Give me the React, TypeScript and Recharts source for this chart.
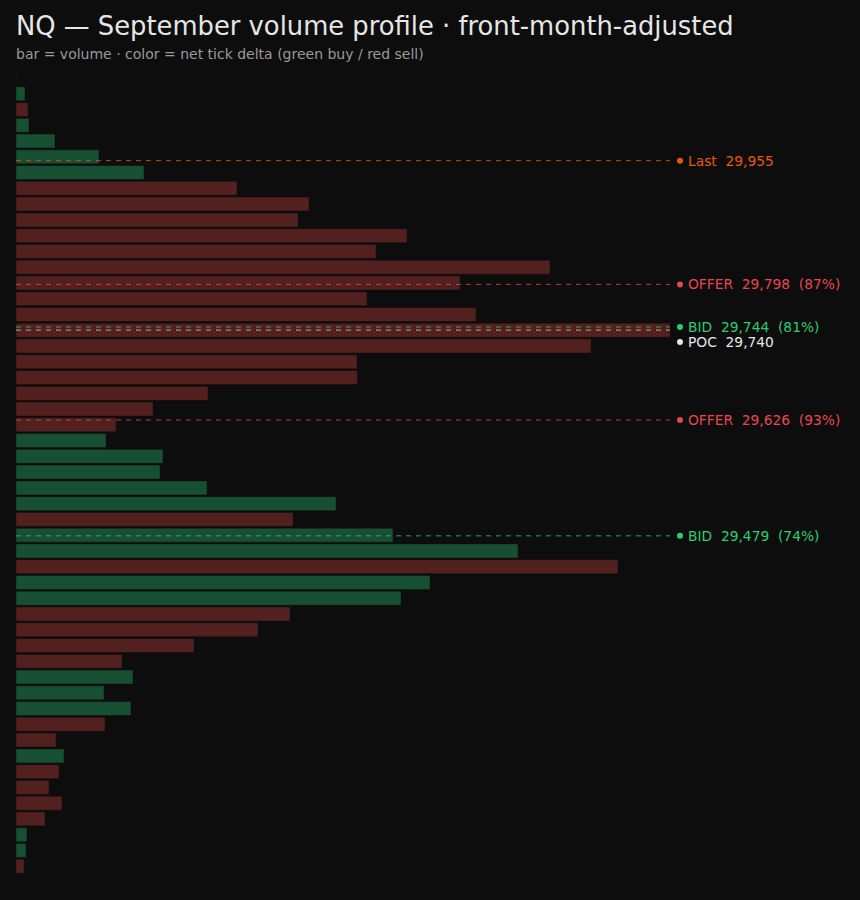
import { BarChart, Bar, XAxis, YAxis, Cell, ReferenceLine } from 'recharts';

// price bins (20-pt), top to bottom
const prices = [
  30060, 30040, 30020, 30000, 29980, 29960, 29940, 29920, 29900, 29880,
  29860, 29840, 29820, 29800, 29780, 29760, 29740, 29720, 29700, 29680,
  29660, 29640, 29620, 29600, 29580, 29560, 29540, 29520, 29500, 29480,
  29460, 29440, 29420, 29400, 29380, 29360, 29340, 29320, 29300, 29280,
  29260, 29240, 29220, 29200, 29180, 29160, 29140, 29120, 29100, 29080,
  29060,
];

const volumes = [
  4, 126, 168, 182, 546, 1162, 1792, 3094, 4102, 3948,
  5474, 5040, 7476, 6216, 4914, 6440, 9156, 8050, 4774, 4781,
  2688, 1918, 1400, 1260, 2058, 2016, 2674, 4480, 3878, 5278,
  7028, 8428, 5796, 5390, 3836, 3388, 2492, 1484, 1638, 1232,
  1610, 1246, 560, 672, 602, 462, 644, 406, 154, 140,
  112,
];

// sign of net tick delta: 1 = buy, -1 = sell
const deltaSign = [
  1, 1, -1, 1, 1, 1, 1, -1, -1, -1,
  -1, -1, -1, -1, -1, -1, -1, -1, -1, -1,
  -1, -1, -1, 1, 1, 1, 1, 1, -1, 1,
  1, -1, 1, 1, -1, -1, -1, -1, 1, 1,
  1, -1, -1, 1, -1, -1, -1, -1, 1, 1,
  -1,
];

const levelNames = ['Last', 'OFFER', 'BID', 'POC', 'OFFER', 'BID'];
const levelPrices = [29955, 29798, 29744, 29740, 29626, 29479];
const levelPct = [null, 87, 81, null, 93, 74];

const LEVEL_COLORS: Record<string, string> = {
  Last: '#e8590c',
  OFFER: '#e5484d',
  BID: '#2ecc71',
  POC: '#e6e6e6',
};
const LINE_COLORS: Record<string, string> = {
  Last: '#e8590c',
  OFFER: '#e5484d',
  BID: '#2ecc71',
  POC: '#c8c8c8',
};

const BUY = '#174f33';
const SELL = '#52201f';
const BG = '#0d0d0d';
const FONT = '"DejaVu Sans", sans-serif';

const W = 860;
const H = 900;
const MARGIN = { top: 70, right: 190, bottom: 26, left: 16 };
const DOMAIN: [number, number] = [29050, 30070];
const PLOT_H = H - MARGIN.top - MARGIN.bottom;
const PX_PER_PT = PLOT_H / (DOMAIN[1] - DOMAIN[0]);
const LABEL_GAP = 15;

const data = prices.map((price, i) => ({
  price,
  volume: volumes[i],
  side: deltaSign[i],
}));

const fmt = (n: number) => n.toLocaleString('en-US');

// simple top-down collision avoidance for the right-hand labels
const levels = levelNames.map((name, i) => ({
  name,
  price: levelPrices[i],
  pct: levelPct[i],
}));
const labelShift: number[] = [];
{
  let prevY = -Infinity;
  levels.forEach((lv, i) => {
    const lineY = (DOMAIN[1] - lv.price) * PX_PER_PT;
    const y = Math.max(lineY, prevY + LABEL_GAP);
    labelShift[i] = y - lineY;
    prevY = y;
  });
}

function LevelLabel(props: any) {
  const { viewBox, name, price, pct, shift } = props;
  if (!viewBox) return null;
  const x = viewBox.x + viewBox.width;
  const y = viewBox.y + shift;
  const color = LEVEL_COLORS[name];
  const text = `${name}  ${fmt(price)}` + (pct != null ? `  (${pct}%)` : '');
  return (
    <g>
      <circle cx={x + 10} cy={y} r={3} fill={color} />
      <text
        x={x + 18}
        y={y}
        dy="0.36em"
        fill={color}
        fontSize={13.8}
        fontFamily={FONT}
        style={{ whiteSpace: 'pre' }}
      >
        {text}
      </text>
    </g>
  );
}

export default function App() {
  return (
    <div
      style={{
        position: 'fixed',
        top: 0,
        left: 0,
        width: W,
        height: H,
        background: BG,
        fontFamily: FONT,
        overflow: 'hidden',
      }}
    >
      <div style={{ position: 'absolute', left: 16, top: 11, fontSize: 25.8, color: '#e6e6e6', lineHeight: 'normal', whiteSpace: 'nowrap' }}>
        NQ — September volume profile · front-month-adjusted
      </div>
      <div style={{ position: 'absolute', left: 16, top: 46, fontSize: 14, color: '#9a9a9a', lineHeight: 'normal', whiteSpace: 'nowrap' }}>
        bar = volume · color = net tick delta (green buy / red sell)
      </div>
      <div style={{ position: 'absolute', left: 0, top: 0 }}>
        <BarChart width={W} height={H} data={data} layout="vertical" margin={MARGIN}>
          <XAxis type="number" dataKey="volume" domain={[0, 'dataMax']} hide />
          <YAxis type="number" dataKey="price" domain={DOMAIN} reversed hide />
          <Bar dataKey="volume" barSize={14} stroke={BG} strokeOpacity={0.45} strokeWidth={1} isAnimationActive={false}>
            {data.map((d) => (
              <Cell key={d.price} fill={d.side > 0 ? BUY : SELL} />
            ))}
          </Bar>
          {levels.map((lv, i) => (
            <ReferenceLine
              key={lv.name + lv.price}
              y={lv.price}
              stroke={LINE_COLORS[lv.name]}
              strokeOpacity={0.8}
              strokeDasharray="5 5"
              strokeWidth={1}
              label={<LevelLabel name={lv.name} price={lv.price} pct={lv.pct} shift={labelShift[i]} />}
            />
          ))}
        </BarChart>
      </div>
    </div>
  );
}
